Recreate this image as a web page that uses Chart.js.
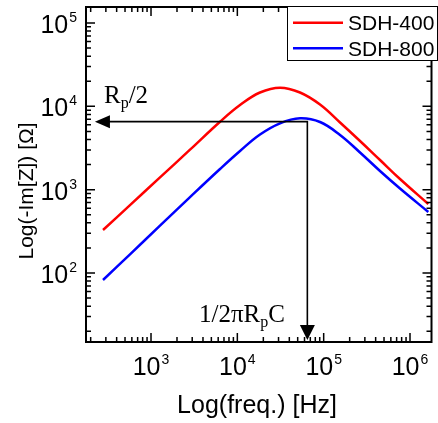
<!DOCTYPE html>
<html>
<head>
<meta charset="utf-8">
<script src="https://cdn.jsdelivr.net/npm/chart.js@4/dist/chart.umd.min.js"></script>
<style>
html, body { margin: 0; padding: 0; background: #fff; }
#wrap { width: 438px; height: 423px; position: relative; }
</style>
</head>
<body>
<div id="wrap"><canvas id="c"></canvas></div>
<script>
// -Im(Z) vs frequency
const freq = [278, 571, 1271, 2830, 6300, 10740, 18300, 31220, 53190, 90700, 154700, 263600, 449400, 766000, 1629000];
const imz400 = [328, 653, 1403, 3017, 6540, 10370, 14660, 16740, 14660, 10510, 6397, 3837, 2270, 1343, 673];
const imz800 = [82.4, 167.6, 369.5, 814, 1770, 2911, 4592, 6258, 7180, 6486, 4529, 2793, 1675, 1032, 540];
const seriesNames = ['SDH-400', 'SDH-800'];

const xTickVals = [1e3, 1e4, 1e5, 1e6];
const xTickExp  = ['3', '4', '5', '6'];
const yTickVals = [1e2, 1e3, 1e4, 1e5];
const yTickExp  = ['2', '3', '4', '5'];

// Rp/2 level and relaxation frequency markers
const halfRp = 6550;
const fRelax = 64700;
const arrowStartFreq = 224;

const X_MIN = 176.6, X_MAX = 1.774e6;
const Y_MIN = 14.86, Y_MAX = 155600;

const SANS = '"Liberation Sans", Arial, sans-serif';
const SERIF = '"Liberation Serif", "Times New Roman", serif';

function pts(xs, ys) { return xs.map((x, i) => ({ x: x, y: ys[i] })); }

function drawPow(ctx, exp, x, baseline, align) {
  ctx.font = '25px ' + SANS;
  const w1 = ctx.measureText('10').width;
  ctx.font = '14px ' + SANS;
  const w2 = ctx.measureText(exp).width;
  const total = w1 + 1 + w2;
  const x0 = align === 'center' ? x - total / 2 : x - total;
  ctx.textAlign = 'left';
  ctx.textBaseline = 'alphabetic';
  ctx.font = '25px ' + SANS;
  ctx.fillText('10', x0, baseline);
  ctx.font = '14px ' + SANS;
  ctx.fillText(exp, x0 + w1 + 1, baseline - 11);
}

function drawSub(ctx, parts, x, baseline) {
  // parts: [main, sub, main]
  ctx.textAlign = 'left';
  ctx.textBaseline = 'alphabetic';
  let cx = x;
  parts.forEach((p, i) => {
    const isSub = i % 2 === 1;
    ctx.font = (isSub ? '16px ' : '25px ') + SERIF;
    ctx.fillText(p, cx, baseline + (isSub ? 5 : 0));
    cx += ctx.measureText(p).width;
  });
}

const decor = {
  id: 'decor',
  afterDatasetsDraw(chart) {
    const ctx = chart.ctx;
    const a = chart.chartArea;
    const xs = chart.scales.x, ys = chart.scales.y;
    ctx.save();
    ctx.fillStyle = '#000';
    ctx.strokeStyle = '#000';

    // arrows
    const ay = ys.getPixelForValue(halfRp);
    const ax = xs.getPixelForValue(fRelax);
    const ax0 = xs.getPixelForValue(arrowStartFreq);
    const tipY = a.bottom - 2;
    ctx.lineWidth = 1.6;
    ctx.beginPath();
    ctx.moveTo(ax0 + 12, ay); ctx.lineTo(ax, ay); ctx.lineTo(ax, tipY - 12);
    ctx.stroke();
    ctx.beginPath();
    ctx.moveTo(ax0, ay); ctx.lineTo(ax0 + 15, ay - 6.5); ctx.lineTo(ax0 + 15, ay + 6.5); ctx.closePath();
    ctx.fill();
    ctx.beginPath();
    ctx.moveTo(ax, tipY); ctx.lineTo(ax - 7.5, tipY - 15); ctx.lineTo(ax + 7.5, tipY - 15); ctx.closePath();
    ctx.fill();

    // annotations
    drawSub(ctx, ['R', 'p', '/2'], 104, 103);
    drawSub(ctx, ['1/2\u03c0R', 'p', 'C'], 199, 322);

    // frame
    ctx.lineWidth = 2;
    ctx.strokeRect(a.left, a.top, a.right - a.left, a.bottom - a.top);

    // ticks on all four sides
    ctx.lineWidth = 1.5;
    ctx.beginPath();
    for (let d = Math.floor(Math.log10(X_MIN)); d <= Math.ceil(Math.log10(X_MAX)); d++) {
      for (let m = 1; m <= 9; m++) {
        const v = m * Math.pow(10, d);
        if (v < X_MIN || v > X_MAX) continue;
        const p = xs.getPixelForValue(v);
        const len = m === 1 ? 9 : 5;
        ctx.moveTo(p, a.bottom); ctx.lineTo(p, a.bottom - len);
        ctx.moveTo(p, a.top); ctx.lineTo(p, a.top + len);
      }
    }
    for (let d = Math.floor(Math.log10(Y_MIN)); d <= Math.ceil(Math.log10(Y_MAX)); d++) {
      for (let m = 1; m <= 9; m++) {
        const v = m * Math.pow(10, d);
        if (v < Y_MIN || v > Y_MAX) continue;
        const p = ys.getPixelForValue(v);
        const len = m === 1 ? 9 : 5;
        ctx.moveTo(a.left, p); ctx.lineTo(a.left + len, p);
        ctx.moveTo(a.right, p); ctx.lineTo(a.right - len, p);
      }
    }
    ctx.stroke();

    // tick labels
    xTickVals.forEach((v, i) => drawPow(ctx, xTickExp[i], xs.getPixelForValue(v), 375, 'center'));
    yTickVals.forEach((v, i) => drawPow(ctx, yTickExp[i], 77, ys.getPixelForValue(v) + 10, 'right'));

    // axis titles
    ctx.textAlign = 'center';
    ctx.textBaseline = 'alphabetic';
    ctx.font = '25px ' + SANS;
    ctx.fillText('Log(freq.) [Hz]', 257, 413);
    ctx.save();
    ctx.translate(33, 191);
    ctx.rotate(-Math.PI / 2);
    ctx.font = '21px ' + SANS;
    ctx.fillText('Log(-Im[Z]) [\u03a9]', 0, 0);
    ctx.restore();

    // legend box
    ctx.fillStyle = '#fff';
    ctx.fillRect(287.5, 6.5, 150, 54);
    ctx.lineWidth = 1;
    ctx.strokeStyle = '#000';
    ctx.strokeRect(287.5, 6.5, 150, 54);
    chart.data.datasets.forEach((ds, i) => {
      const ly = 22.7 + i * 25.6;
      ctx.strokeStyle = ds.borderColor;
      ctx.lineWidth = 2.5;
      ctx.beginPath();
      ctx.moveTo(293, ly); ctx.lineTo(343, ly);
      ctx.stroke();
      ctx.fillStyle = '#000';
      ctx.font = '21px ' + SANS;
      ctx.textAlign = 'left';
      ctx.fillText(ds.label, 348, ly + 7.6);
    });
    ctx.restore();
  }
};

new Chart(document.getElementById('c'), {
  type: 'line',
  data: {
    datasets: [
      { label: seriesNames[0], data: pts(freq, imz400), borderColor: '#ff0000', borderWidth: 2.5,
        pointRadius: 0, tension: 0.4, fill: false },
      { label: seriesNames[1], data: pts(freq, imz800), borderColor: '#0000ff', borderWidth: 2.5,
        pointRadius: 0, tension: 0.4, fill: false }
    ]
  },
  options: {
    responsive: true,
    maintainAspectRatio: false,
    animation: false,
    devicePixelRatio: 1,
    layout: { padding: { left: 86, top: 7, right: 6.5, bottom: 81 } },
    plugins: { legend: { display: false }, tooltip: { enabled: false } },
    scales: {
      x: { type: 'logarithmic', min: X_MIN, max: X_MAX, display: false },
      y: { type: 'logarithmic', min: Y_MIN, max: Y_MAX, display: false }
    }
  },
  plugins: [decor]
});
</script>
</body>
</html>
